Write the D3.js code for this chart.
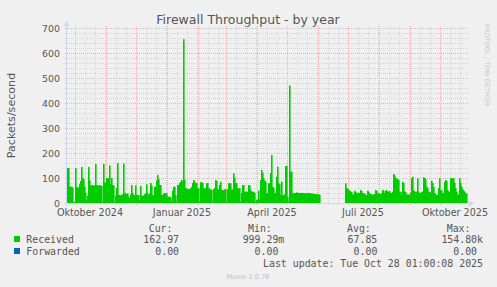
<!DOCTYPE html>
<html>
<head>
<meta charset="utf-8">
<script src="https://cdn.jsdelivr.net/npm/d3@7"></script>
<style>
  html, body { margin: 0; padding: 0; background: #f0f0f0; }
  svg { display: block; }
  text { font-family: "DejaVu Sans", sans-serif; fill: #555; }
  .mono { font-family: "DejaVu Sans Mono", monospace; font-size: 9.9px; }
</style>
</head>
<body>
<script>
var width = 497,
    height = 287;

var margin = {left: 67, right: 30, top: 28, bottom: 84};

// last update, graph covers 400 days back from here
var endTime = new Date(2025, 9, 28, 1, 0, 8);
var startTime = new Date(endTime.getTime() - 400 * 864e5);

// received packets/second, one value per day (null = no data)
var received = [
  140, 140, 65, 65, 65, 62, 3, 5, 140, 65, 60, 62, 75, 88, 144, 100, 95, 65, 40, 10,
  30, 144, 90, 70, 70, 72, 70, 70, 156, 72, 70, 70, 72, 70, 68, 4, 156, 82, 80, 100,
  95, 100, 150, 75, 100, 72, 70, 4, 30, 60, 160, 32, 32, 30, 32, 35, 158, 40, 38, 36,
  38, 25, 19, 35, 72, 40, 32, 30, 70, 32, 30, 32, 12, 68, 30, 28, 30, 35, 39, 75,
  39, 30, 38, 80, 70, 32, 30, 65, 65, 90, 112, 95, 72, 72, 32, 32, 39, 39, 40, 38,
  25, 25, 25, 22, 5, 50, 65, 65, 32, 5, 72, 72, 80, 85, 92, 85, 655, 92, 60, 58,
  56, 56, 56, 58, 65, 80, 92, 85, 79, 80, 60, 58, 5, 83, 83, 80, 59, 58, 60, 79,
  80, 60, 55, 55, 52, 5, 55, 60, 92, 88, 55, 55, 72, 85, 52, 52, 50, 55, 55, 5,
  55, 79, 80, 78, 52, 55, 119, 100, 79, 80, 59, 58, 59, 5, 40, 72, 72, 45, 45, 45,
  45, 72, 70, 52, 45, 45, 45, 40, 5, 12, 15, 50, 12, 92, 132, 120, 99, 90, 85, 39,
  39, 79, 80, 120, 192, 65, 60, 39, 40, 105, 145, 79, 75, 32, 85, 32, 30, 35, 148, 148,
  25, 5, 470, 125, 125, 39, 38, 40, 40, 42, 41, 40, 40, 40, 41, 40, 40, 39, 39, 38,
  40, 40, 39, 38, 38, 37, 37, 36, 36, 35, 35, 34, 33,
  null, null, null, null, null, null, null, null, null, null, null, null, null,
  null, null, null, null, null, null, null, null, null, null, null, null,
  79, 60, 58, 52, 50, 45, 45, 32, 35, 49, 45, 39, 39, 41, 40, 52, 48, 39, 39, 38,
  32, 32, 49, 45, 39, 35, 35, 30, 35, 36, 52, 48, 39, 39, 36, 36, 40, 52, 50, 39,
  48, 52, 45, 45, 48, 39, 40, 45, 116, 110, 99, 99, 95, 92, 45, 45, 32, 85, 80, 45,
  45, 32, 35, 33, 32, 40, 99, 105, 52, 45, 45, 45, 99, 45, 39, 39, 45, 45, 103, 100,
  95, 65, 60, 45, 45, 39, 89, 80, 65, 39, 35, 32, 32, 60, 99, 52, 50, 39, 40, 85,
  92, 88, 52, 45, 45, 99, 99, 99, 99, 80, 59, 45, 32, 35, 99, 80, 65, 55, 50, 45,
  39, 38
];

var yTicks = [0, 100, 200, 300, 400, 500, 600, 700];
var xLabelMonths = [new Date(2024, 9, 1), new Date(2025, 0, 1), new Date(2025, 3, 1),
                    new Date(2025, 6, 1), new Date(2025, 9, 1)];
var formatMonth = d3.timeFormat("%B %Y");
var monthNames = {"October": "Oktober", "January": "Januar", "April": "April", "July": "Juli"};

var legendNames = ["Received", "Forwarded"];
var legendColors = ["#00cc00", "#0066b3"];
var legendHeads = ["Cur:", "Min:", "Avg:", "Max:"];
var legendValues = [
  [["162.97", ""], ["999.29", "m"], ["67.85", ""], ["154.80", "k"]],
  [["0.00", ""], ["0.00", ""], ["0.00", ""], ["0.00", ""]]
];

var x = d3.scaleTime()
    .domain([startTime, endTime])
    .range([margin.left, width - margin.right]);

var y = d3.scaleLinear()
    .domain([0, 700])
    .range([height - margin.bottom, margin.top]);

var x0 = x.range()[0], x1 = x.range()[1];
var yb = y(0), yt = y(700);
var px = function(d) { return Math.round(x(d)); };

var svg = d3.select("body").append("svg")
    .attr("width", width)
    .attr("height", height);

// title
svg.append("text")
    .attr("x", 248)
    .attr("y", 24)
    .attr("text-anchor", "middle")
    .style("font-size", "12.5px")
    .text("Firewall Throughput - by year");

// vertical unit label
svg.append("text")
    .attr("transform", "translate(15," + ((yb + yt) / 2) + ") rotate(-90)")
    .attr("text-anchor", "middle")
    .style("font-size", "11.1px")
    .text("Packets/second");

// watermark
svg.append("text")
    .attr("transform", "translate(485,65) rotate(90)")
    .attr("text-anchor", "middle")
    .style("font-size", "6.4px")
    .style("fill", "#c8c8c8")
    .text("RRDTOOL / TOBI OETIKER");

// grid
var minorColor = "#d6d6d6",
    majorColor = "#f0b2b2";
var grid = svg.append("g").attr("class", "grid").attr("shape-rendering", "crispEdges");

var minorY = d3.range(0, 701, 20).filter(function(v) { return v % 100 != 0; });
grid.selectAll("line.ymin")
    .data(minorY)
  .enter().append("line")
    .attr("x1", x0 - 2).attr("x2", x1 + 2)
    .attr("y1", function(d) { return y(d) + 0.5; })
    .attr("y2", function(d) { return y(d) + 0.5; })
    .attr("stroke", minorColor)
    .attr("stroke-dasharray", "1,1");

var minorX = d3.timeDay.every(10).range(startTime, endTime)
    .filter(function(d) { return d.getDate() != 1; });
grid.selectAll("line.xmin")
    .data(minorX)
  .enter().append("line")
    .attr("x1", function(d) { return px(d) + 0.5; })
    .attr("x2", function(d) { return px(d) + 0.5; })
    .attr("y1", yt - 2).attr("y2", yb + 2)
    .attr("stroke", minorColor)
    .attr("stroke-dasharray", "1,1");

grid.selectAll("line.ymaj")
    .data(yTicks)
  .enter().append("line")
    .attr("x1", x0 - 2).attr("x2", x1 + 2)
    .attr("y1", function(d) { return y(d) + 0.5; })
    .attr("y2", function(d) { return y(d) + 0.5; })
    .attr("stroke", majorColor)
    .attr("stroke-dasharray", "1,1");

grid.selectAll("line.xmaj")
    .data(d3.timeMonth.range(startTime, endTime))
  .enter().append("line")
    .attr("x1", function(d) { return px(d) + 0.5; })
    .attr("x2", function(d) { return px(d) + 0.5; })
    .attr("y1", yt - 2).attr("y2", yb + 2)
    .attr("stroke", majorColor)
    .attr("stroke-dasharray", "1,1");

// received area, one column per day (a little wider so thin spikes stay visible)
var days = received.map(function(v, i) {
  return {date: new Date(startTime.getTime() + i * 864e5), value: v};
});

svg.append("g")
  .selectAll("rect")
    .data(days.filter(function(d) { return d.value != null; }))
  .enter().append("rect")
    .attr("x", function(d) { return x(d.date); })
    .attr("width", 1.6)
    .attr("y", function(d) { return y(d.value); })
    .attr("height", function(d) { return yb - y(d.value); })
    .attr("fill", "#00cc00");

// axes with arrows
var axisColor = "#cfd6f8";
svg.append("line")
    .attr("x1", x0 - 3).attr("x2", x1 + 2)
    .attr("y1", yb + 0.5).attr("y2", yb + 0.5)
    .attr("stroke", axisColor);
svg.append("path")
    .attr("d", "M" + (x1 + 2) + "," + (yb - 2.5) + "L" + (x1 + 7) + "," + (yb + 0.5) + "L" + (x1 + 2) + "," + (yb + 3.5) + "Z")
    .attr("fill", axisColor);
svg.append("line")
    .attr("x1", x0 - 0.5).attr("x2", x0 - 0.5)
    .attr("y1", yb + 3).attr("y2", yt - 2)
    .attr("stroke", axisColor);
svg.append("path")
    .attr("d", "M" + (x0 - 3.5) + "," + (yt - 2) + "L" + (x0 - 0.5) + "," + (yt - 7) + "L" + (x0 + 2.5) + "," + (yt - 2) + "Z")
    .attr("fill", axisColor);

// y labels
svg.selectAll("text.ylab")
    .data(yTicks)
  .enter().append("text")
    .attr("x", x0 - 7)
    .attr("y", function(d) { return y(d) + 3.5; })
    .attr("text-anchor", "end")
    .style("font-size", "9.4px")
    .text(function(d) { return d; });

// x labels, centred half a month after the month start
svg.selectAll("text.xlab")
    .data(xLabelMonths)
  .enter().append("text")
    .attr("x", function(d) { return x(d3.timeDay.offset(d, 15)); })
    .attr("y", yb + 12.5)
    .attr("text-anchor", "middle")
    .style("font-size", "9.6px")
    .text(function(d) {
      var s = formatMonth(d).split(" ");
      return (monthNames[s[0]] || s[0]) + " " + s[1];
    });

// legend
var colRight = [185, 284.3, 383.3, 483];
var charW = 5.96;

svg.selectAll("text.head")
    .data(legendHeads)
  .enter().append("text")
    .attr("class", "mono")
    .attr("x", function(d, i) { return colRight[i] - 12.5; })
    .attr("y", 231.5)
    .attr("text-anchor", "end")
    .text(function(d) { return d; });

legendNames.forEach(function(name, r) {
  var yy = 243 + r * 12;
  svg.append("rect")
      .attr("x", 14).attr("y", yy - 7)
      .attr("width", 6).attr("height", 6)
      .attr("fill", legendColors[r]);
  svg.append("text")
      .attr("class", "mono")
      .attr("x", 26.3).attr("y", yy)
      .text(name);
  legendValues[r].forEach(function(v, c) {
    svg.append("text")
        .attr("class", "mono")
        .attr("x", colRight[c] - (v[1] ? 0 : charW))
        .attr("y", yy)
        .attr("text-anchor", "end")
        .text(v[0] + v[1]);
  });
});

svg.append("text")
    .attr("class", "mono")
    .attr("x", 483)
    .attr("y", 267)
    .attr("text-anchor", "end")
    .text("Last update: Tue Oct 28 01:00:08 2025");

svg.append("text")
    .attr("x", 248)
    .attr("y", 278.5)
    .attr("text-anchor", "middle")
    .style("font-size", "6.6px")
    .style("fill", "#c0c0c0")
    .text("Munin 2.0.76");
</script>
</body>
</html>
